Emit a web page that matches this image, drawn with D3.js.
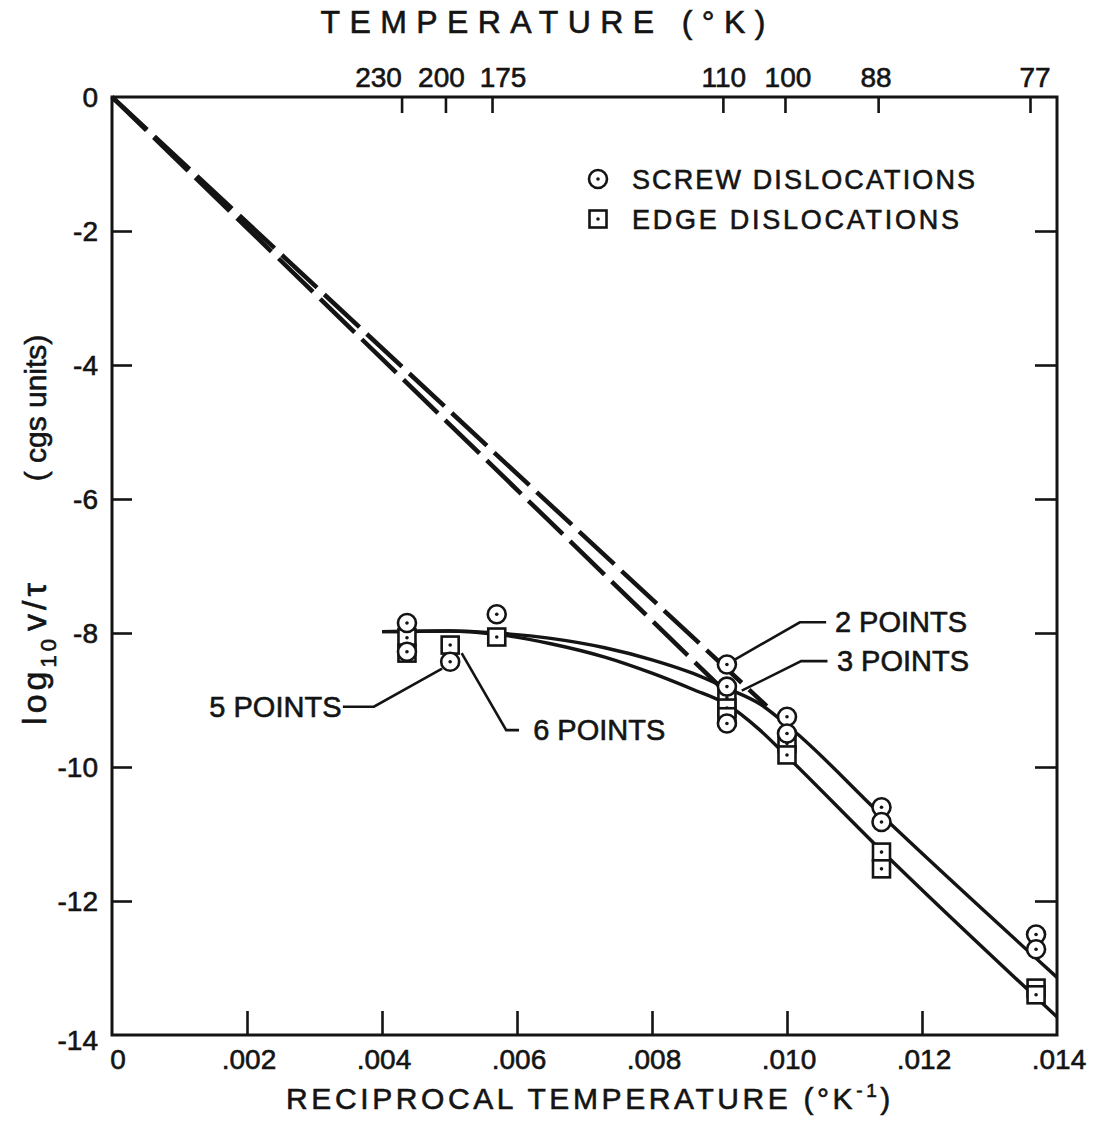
<!DOCTYPE html>
<html><head><meta charset="utf-8">
<script src="https://cdn.jsdelivr.net/npm/d3@7"></script>
<style>
body{margin:0;background:#fff;}
text{font-family:"Liberation Sans",Arial,sans-serif;fill:#141414;stroke:#141414;stroke-width:0.6px;}
</style></head><body>
<svg id="chart" width="1094" height="1124"></svg>
<script>
// Bottom axis: reciprocal temperature (1/K)
const recipTickValues = [0.002, 0.004, 0.006, 0.008, 0.010, 0.012];
const recipLabelValues = [0, 0.002, 0.004, 0.006, 0.008, 0.010, 0.012, 0.014];
const recipLabels = ["0", ".002", ".004", ".006", ".008", ".010", ".012", ".014"];
// Left axis: log10 v/tau
const logTickValues = [0, -2, -4, -6, -8, -10, -12, -14];
// Top axis: temperature (K) and where each tick sits in 1/K
const tempLabels = ["230", "200", "175", "110", "100", "88", "77"];
const tempTickRecip = [0.00429, 0.00494, 0.00563, 0.00905, 0.00997, 0.01135, 0.01360];

// Measured points: [1/T, log10 v/tau]
const screwPoints = [
  [0.00437, -7.85], [0.00437, -8.28], [0.00501, -8.43], [0.00570, -7.72],
  [0.00911, -8.47], [0.00911, -8.80], [0.00911, -9.35],
  [0.01000, -9.25], [0.01000, -9.50],
  [0.01140, -10.60], [0.01140, -10.82],
  [0.01369, -12.50], [0.01369, -12.72]
];
const edgePoints = [
  [0.00437, -8.07], [0.00437, -8.30], [0.00501, -8.18], [0.00570, -8.06],
  [0.00911, -8.97], [0.00911, -9.12], [0.00911, -9.25],
  [0.01000, -9.65], [0.01000, -9.82],
  [0.01140, -11.27], [0.01140, -11.52],
  [0.01369, -13.30], [0.01369, -13.40]
];

// Fitted curves
const screwCurve = [
  [0.0040, -7.98], [0.0050, -7.97], [0.0057, -8.00], [0.0065, -8.08],
  [0.0073, -8.22], [0.0080, -8.40], [0.0086, -8.60], [0.0091, -8.82],
  [0.0096, -9.06], [0.0101, -9.46], [0.0114, -10.72], [0.0140, -13.14]
];
const edgeCurve = [
  [0.0040, -7.98], [0.0050, -7.97], [0.0057, -8.02], [0.0065, -8.16],
  [0.0073, -8.36], [0.0080, -8.60], [0.0086, -8.84], [0.0091, -9.06],
  [0.0096, -9.45], [0.0100, -9.84], [0.0114, -11.25], [0.0140, -13.73]
];
// Extrapolations to 1/T = 0
const screwExtrap = [[0, 0], [0.0097, -9.09]];
const edgeExtrap = [[0, 0], [0.0091, -8.89]];

const svg = d3.select("#chart");
const x = d3.scaleLinear().domain([0, 0.014]).range([112, 1057]);
const y = d3.scaleLinear().domain([0, -14]).range([97, 1035]);
const ink = "#141414";

// Frame
svg.append("rect")
  .attr("x", x(0)).attr("y", y(0))
  .attr("width", x(0.014) - x(0)).attr("height", y(-14) - y(0))
  .attr("fill", "none").attr("stroke", ink).attr("stroke-width", 3);

// Inward ticks from axis generators
function tickAxis(gen, tx, ty) {
  const g = svg.append("g").attr("transform", `translate(${tx},${ty})`).call(gen);
  g.select(".domain").remove();
  g.selectAll(".tick line").attr("stroke", ink).attr("stroke-width", 2.6);
  g.selectAll(".tick text").remove();
  return g;
}
tickAxis(d3.axisBottom(x).tickValues(recipTickValues).tickSize(-24).tickFormat(""), 0, y(-14));
tickAxis(d3.axisLeft(y).tickValues(logTickValues.slice(1, -1)).tickSize(-20).tickFormat(""), x(0), 0);
tickAxis(d3.axisRight(y).tickValues(logTickValues.slice(1, -1)).tickSize(-22).tickFormat(""), x(0.014), 0);
tickAxis(d3.axisTop(x).tickValues(tempTickRecip).tickSize(-16).tickFormat(""), 0, y(0));

// Bottom tick labels
svg.append("g").selectAll("text").data(recipLabelValues).join("text")
  .attr("x", (d, i) => x(d) + (i === 0 ? 6 : 2))
  .attr("y", y(-14) + 34)
  .attr("text-anchor", "middle")
  .attr("font-size", 28)
  .text((d, i) => recipLabels[i]);

// Left tick labels
svg.append("g").selectAll("text").data(logTickValues).join("text")
  .attr("x", x(0) - 14)
  .attr("y", d => y(d) + 10 + (d === -14 ? 5 : 0))
  .attr("text-anchor", "end")
  .attr("font-size", 28)
  .text(d => d === 0 ? "0" : "-" + Math.abs(d));

// Top tick labels
const tempDx = [-23, -4, 11, 1, 3, -2, 5];
svg.append("g").selectAll("text").data(tempTickRecip).join("text")
  .attr("x", (d, i) => x(d) + tempDx[i])
  .attr("y", y(0) - 10)
  .attr("text-anchor", "middle")
  .attr("font-size", 28)
  .text((d, i) => tempLabels[i]);

// Axis titles
svg.append("text")
  .attr("x", 543).attr("y", 33)
  .attr("text-anchor", "middle").attr("font-size", 32)
  .attr("textLength", 445).attr("lengthAdjust", "spacing")
  .text("TEMPERATURE (°K)");

const bt = svg.append("text")
  .attr("x", 590).attr("y", 1109)
  .attr("text-anchor", "middle").attr("font-size", 30)
  .attr("letter-spacing", 3.6);
bt.append("tspan").text("RECIPROCAL TEMPERATURE (°K");
bt.append("tspan").attr("font-size", 19).attr("dy", -12).text("-1");
bt.append("tspan").attr("dy", 12).text(")");

const yl1 = svg.append("text")
  .attr("transform", "translate(46,652) rotate(-90)")
  .attr("text-anchor", "middle").attr("font-size", 34)
  .attr("letter-spacing", 4);
yl1.append("tspan").text("log");
yl1.append("tspan").attr("font-size", 22).attr("dy", 10).text("10");
yl1.append("tspan").attr("dy", -10).attr("dx", 4).text("v/τ");
svg.append("text")
  .attr("transform", "translate(46,408) rotate(-90)")
  .attr("text-anchor", "middle").attr("font-size", 30)
  .text("( cgs units)");

// Curves
const line = d3.line().x(d => x(d[0])).y(d => y(d[1]));
const smooth = d3.line().x(d => x(d[0])).y(d => y(d[1])).curve(d3.curveMonotoneX);

[screwExtrap, edgeExtrap].forEach(d => {
  svg.append("path").attr("d", line(d))
    .attr("fill", "none").attr("stroke", ink)
    .attr("stroke-width", 4.5).attr("stroke-dasharray", "48,10");
});
[screwCurve, edgeCurve].forEach(d => {
  svg.append("path").attr("d", smooth(d))
    .attr("fill", "none").attr("stroke", ink).attr("stroke-width", 3.4);
});

// Annotation leaders and labels
const notes = [
  { text: "5 POINTS", anchor: "end", at: [0.00340, -9.10], path: [[0.00342, -9.10], [0.00388, -9.10], [0.00489, -8.53]] },
  { text: "6 POINTS", anchor: "start", at: [0.00624, -9.45], path: [[0.00518, -8.30], [0.00584, -9.45], [0.00603, -9.45]] },
  { text: "2 POINTS", anchor: "start", at: [0.01071, -7.84], path: [[0.00922, -8.40], [0.01019, -7.84], [0.01058, -7.84]] },
  { text: "3 POINTS", anchor: "start", at: [0.01074, -8.42], path: [[0.00933, -8.86], [0.01021, -8.42], [0.01060, -8.42]] }
];
notes.forEach(n => {
  svg.append("path").attr("d", line(n.path))
    .attr("fill", "none").attr("stroke", ink).attr("stroke-width", 2.6);
  svg.append("text")
    .attr("x", x(n.at[0])).attr("y", y(n.at[1]) + 10)
    .attr("text-anchor", n.anchor).attr("font-size", 29)
    .text(n.text);
});

// Markers
function circleMark(g, cx, cy) {
  g.append("circle").attr("cx", cx).attr("cy", cy).attr("r", 9)
    .attr("fill", "#fff").attr("stroke", ink).attr("stroke-width", 2.6);
  g.append("circle").attr("cx", cx).attr("cy", cy).attr("r", 1.8).attr("fill", ink);
}
function squareMark(g, cx, cy) {
  g.append("rect").attr("x", cx - 8.5).attr("y", cy - 8.5).attr("width", 17).attr("height", 17)
    .attr("fill", "#fff").attr("stroke", ink).attr("stroke-width", 2.6);
  g.append("circle").attr("cx", cx).attr("cy", cy).attr("r", 1.8).attr("fill", ink);
}
const mk = svg.append("g");
edgePoints.forEach(d => squareMark(mk, x(d[0]), y(d[1])));
screwPoints.forEach(d => circleMark(mk, x(d[0]), y(d[1])));

// Legend
const lg = svg.append("g");
circleMark(lg, 598, 179);
squareMark(lg, 598, 219);
lg.append("text").attr("x", 632).attr("y", 189).attr("font-size", 27)
  .attr("textLength", 343).attr("lengthAdjust", "spacing").text("SCREW DISLOCATIONS");
lg.append("text").attr("x", 632).attr("y", 229).attr("font-size", 27)
  .attr("textLength", 327).attr("lengthAdjust", "spacing").text("EDGE DISLOCATIONS");
</script>
</body></html>
